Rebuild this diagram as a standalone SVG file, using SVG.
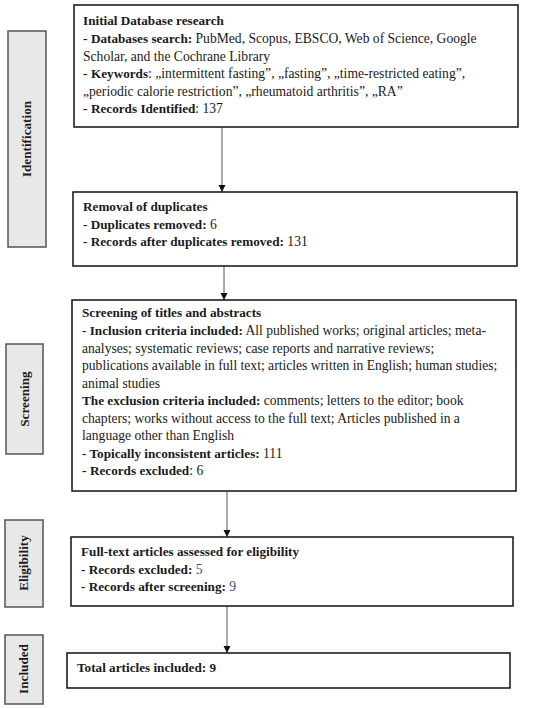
<svg xmlns="http://www.w3.org/2000/svg" width="550" height="709" viewBox="0 0 550 709">
<style>
text{font-family:"Liberation Serif","Times New Roman",serif;font-size:13.6px;fill:#1a1a1a}
.b{font-weight:bold;font-size:13.2px}
.blue{fill:#3a4f8a}
.box{fill:#fff;stroke:#111;stroke-width:1.5}
.side{fill:#e8e8e8;stroke:#555;stroke-width:1.5}
.lbl{font-weight:bold;font-size:13.2px;text-anchor:middle}
.con{stroke:#555;stroke-width:1;fill:none}
</style>
<defs>
<marker id="ah" markerWidth="8" markerHeight="8" refX="7" refY="4" orient="auto" markerUnits="userSpaceOnUse">
<path d="M0,0.5 L7,4 L0,7.5 Z" fill="#111"/>
</marker>
</defs>
<g id="stage-identification">
<rect class="side" x="8" y="31" width="38" height="216"/>
<text class="lbl" transform="translate(31,139) rotate(-90)">Identification</text>
</g>
<g id="stage-screening">
<rect class="side" x="6" y="344" width="37" height="110"/>
<text class="lbl" transform="translate(29,399) rotate(-90)">Screening</text>
</g>
<g id="stage-eligibility">
<rect class="side" x="5" y="520" width="38" height="87"/>
<text class="lbl" transform="translate(28,563) rotate(-90)">Eligibility</text>
</g>
<g id="stage-included">
<rect class="side" x="5" y="635" width="38" height="69"/>
<text class="lbl" transform="translate(28,669) rotate(-90)">Included</text>
</g>
<g id="connectors">
<line class="con" x1="222" y1="127" x2="222" y2="192" marker-end="url(#ah)"/>
<line class="con" x1="224" y1="266" x2="224" y2="300" marker-end="url(#ah)"/>
<line class="con" x1="227" y1="491" x2="227" y2="537" marker-end="url(#ah)"/>
<line class="con" x1="227" y1="606" x2="227" y2="653" marker-end="url(#ah)"/>
</g>
<g id="node-initial">
<rect class="box" x="74" y="5" width="444" height="122"/>
<text x="83" y="25" class="b">Initial Database research</text>
<text x="83" y="43"><tspan>- </tspan><tspan class="b">Databases search:</tspan> PubMed, Scopus, EBSCO, Web of Science, Google</text>
<text x="83" y="60.5">Scholar, and the Cochrane Library</text>
<text x="83" y="78"><tspan>- </tspan><tspan class="b">Keywords</tspan>: „intermittent fasting”, „fasting”, „time-restricted eating”,</text>
<text x="83" y="95.5">„periodic calorie restriction”, „rheumatoid arthritis”, „RA”</text>
<text x="83" y="113"><tspan>- </tspan><tspan class="b">Records Identified</tspan>: 137</text>
</g>
<g id="node-duplicates">
<rect class="box" x="73" y="192" width="444" height="74"/>
<text x="83" y="211" class="b">Removal of duplicates</text>
<text x="83" y="228.5"><tspan class="b">- Duplicates removed:</tspan> 6</text>
<text x="83" y="246"><tspan class="b">- Records after duplicates removed:</tspan> 131</text>
</g>
<g id="node-screening">
<rect class="box" x="72" y="300" width="444" height="191"/>
<text x="82" y="317" class="b">Screening of titles and abstracts</text>
<text x="82" y="335"><tspan class="b">- Inclusion criteria included:</tspan> All published works; original articles; meta-</text>
<text x="82" y="352.5">analyses; systematic reviews; case reports and narrative reviews;</text>
<text x="82" y="370">publications available in full text; articles written in English; human studies;</text>
<text x="82" y="387.5">animal studies</text>
<text x="82" y="405"><tspan class="b">The exclusion criteria included:</tspan> comments; letters to the editor; book</text>
<text x="82" y="422.5">chapters; works without access to the full text; Articles published in a</text>
<text x="82" y="440">language other than English</text>
<text x="82" y="457.5"><tspan class="b">- Topically inconsistent articles:</tspan> 111</text>
<text x="82" y="475"><tspan>- </tspan><tspan class="b">Records excluded</tspan>: 6</text>
</g>
<g id="node-eligibility">
<rect class="box" x="71" y="537" width="442" height="69"/>
<text x="81" y="556" class="b">Full-text articles assessed for eligibility</text>
<text x="81" y="573.5"><tspan class="b">- Records excluded:</tspan> <tspan class="blue">5</tspan></text>
<text x="81" y="591"><tspan class="b">- Records after screening:</tspan> <tspan class="blue">9</tspan></text>
</g>
<g id="node-included">
<rect class="box" x="67" y="653" width="443" height="35"/>
<text x="77" y="672" class="b">Total articles included: 9</text>
</g>
</svg>
